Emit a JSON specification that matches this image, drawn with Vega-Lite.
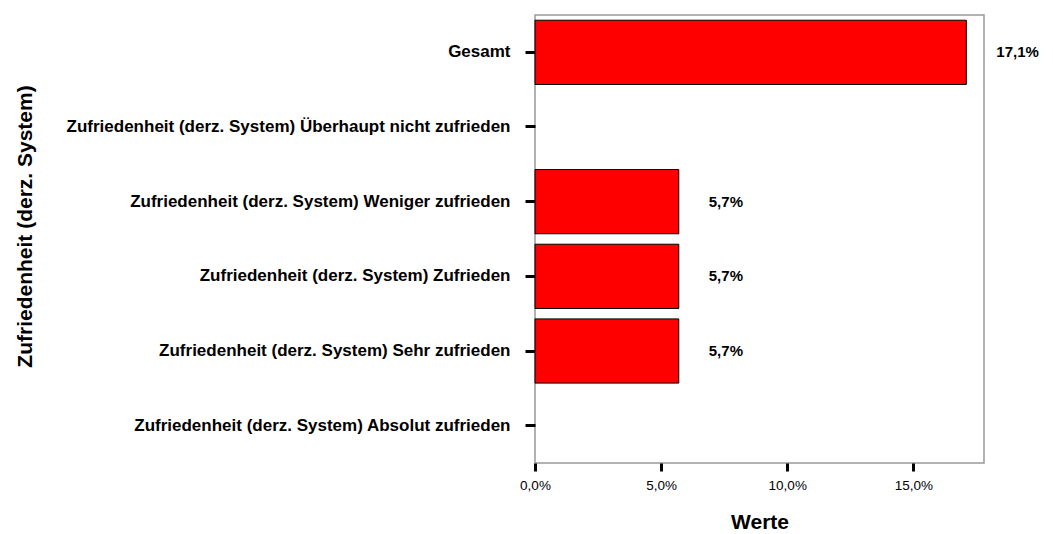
{
  "$schema": "https://vega.github.io/schema/vega-lite/v6.json",
  "autosize": "none",
  "width": 449,
  "height": 448,
  "padding": {"left": 535, "top": 15, "right": 69, "bottom": 71},
  "background": "white",
  "config": {
    "locale": {"number": {"decimal": ",", "thousands": ".", "grouping": [3], "currency": ["", " €"]}},
    "font": "Liberation Sans",
    "view": {"stroke": "#999999", "strokeWidth": 1.5}
  },
  "data": {
    "values": [
      {"kategorie": "Gesamt", "wert": 0.171},
      {"kategorie": "Zufriedenheit (derz. System) Überhaupt nicht zufrieden", "wert": 0},
      {"kategorie": "Zufriedenheit (derz. System) Weniger zufrieden", "wert": 0.057},
      {"kategorie": "Zufriedenheit (derz. System) Zufrieden", "wert": 0.057},
      {"kategorie": "Zufriedenheit (derz. System) Sehr zufrieden", "wert": 0.057},
      {"kategorie": "Zufriedenheit (derz. System) Absolut zufrieden", "wert": 0}
    ]
  },
  "transform": [{"filter": "datum.wert > 0"}],
  "encoding": {
    "y": {
      "field": "kategorie",
      "type": "nominal",
      "sort": null,
      "scale": {
        "domain": [
          "Gesamt",
          "Zufriedenheit (derz. System) Überhaupt nicht zufrieden",
          "Zufriedenheit (derz. System) Weniger zufrieden",
          "Zufriedenheit (derz. System) Zufrieden",
          "Zufriedenheit (derz. System) Sehr zufrieden",
          "Zufriedenheit (derz. System) Absolut zufrieden"
        ],
        "paddingInner": 0.14,
        "paddingOuter": 0.07
      },
      "axis": {
        "title": "Zufriedenheit (derz. System)",
        "titleFontSize": 21,
        "titleFontWeight": "bold",
        "titleColor": "black",
        "titleX": -510,
        "titleY": 211,
        "titleAngle": -90,
        "titleAlign": "center",
        "titleBaseline": "middle",
        "labelFontSize": 17,
        "labelFontWeight": "bold",
        "labelColor": "black",
        "labelPadding": 15,
        "labelLimit": 600,
        "tickSize": 10,
        "tickWidth": 3,
        "tickColor": "black",
        "domain": false
      }
    },
    "x": {
      "field": "wert",
      "type": "quantitative",
      "scale": {"domain": [0, 0.178], "nice": false, "zero": true},
      "axis": {
        "title": "Werte",
        "titleFontSize": 21,
        "titleFontWeight": "bold",
        "titleColor": "black",
        "titleY": 59,
        "titleBaseline": "middle",
        "values": [0, 0.05, 0.1, 0.15],
        "format": ".1%",
        "labelFontSize": 13.5,
        "labelColor": "black",
        "labelPadding": 7,
        "labelFlush": false,
        "tickSize": 8,
        "tickWidth": 3,
        "tickColor": "black",
        "grid": false,
        "domain": false
      }
    }
  },
  "layer": [
    {
      "mark": {"type": "bar", "color": "#ff0000", "stroke": "black", "strokeWidth": 1}
    },
    {
      "mark": {"type": "text", "align": "left", "baseline": "middle", "dx": 30, "fontSize": 15, "fontWeight": "bold", "color": "black"},
      "encoding": {
        "text": {"field": "wert", "type": "quantitative", "format": ".1%"}
      }
    }
  ]
}
